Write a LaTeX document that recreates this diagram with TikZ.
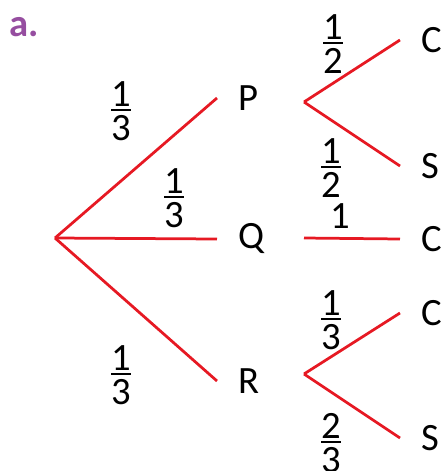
\documentclass[tikz,border=0pt]{standalone}
\usepackage{fontspec}
\setmainfont{Carlito}
\definecolor{treered}{RGB}{230,25,35}
\definecolor{partlabel}{RGB}{150,78,160}
\newcommand{\fr}[2]{\vbox{\offinterlineskip\halign{\hfil##\hfil\cr#1\cr\noalign{\kern1.6pt\hrule height 1.1pt\kern2.2pt}#2\cr}}}

\begin{document}
\begin{tikzpicture}[x=0.02cm, y=-0.02cm,
    every node/.style={font=\fontsize{22}{26}\selectfont, inner sep=0pt},
    branch/.style={treered, line width=0.055cm},
    leaf/.style={anchor=west, inner xsep=0.42cm}]
    \useasboundingbox (0,0) rectangle (444,471);

    \node[font=\fontsize{22}{26}\selectfont\bfseries, text=partlabel] (part) at (24,27) {a.};

    \coordinate (root) at (55,238);
    \node[leaf] (P) at (217,98) {P};
    \node[leaf] (Q) at (217,239) {Q};
    \node[leaf] (R) at (217,381) {R};

    \coordinate (p) at (304,102);
    \coordinate (q) at (304,238);
    \coordinate (r) at (304,374);

    \node[leaf] (PC) at (400,40) {C};
    \node[leaf] (PS) at (400,166) {S};
    \node[leaf] (QC) at (400,239) {C};
    \node[leaf] (RC) at (400,313) {C};
    \node[leaf] (RS) at (400,438) {S};

    \draw[branch] (root) -- (P.west);
    \draw[branch] (root) -- (Q.west);
    \draw[branch] (root) -- (R.west);
    \draw[branch] (p) -- (PC.west);
    \draw[branch] (p) -- (PS.west);
    \draw[branch] (q) -- (QC.west);
    \draw[branch] (r) -- (RC.west);
    \draw[branch] (r) -- (RS.west);

    \node (fP) at (121,111) {\fr{1}{3}};
    \node (fQ) at (174,198) {\fr{1}{3}};
    \node (fR) at (121,375) {\fr{1}{3}};
    \node (fPC) at (333,44) {\fr{1}{2}};
    \node (fPS) at (331,168) {\fr{1}{2}};
    \node (fQC) at (340,216) {1};
    \node (fRC) at (331,320) {\fr{1}{3}};
    \node (fRS) at (331,443) {\fr{2}{3}};
\end{tikzpicture}
\end{document}
